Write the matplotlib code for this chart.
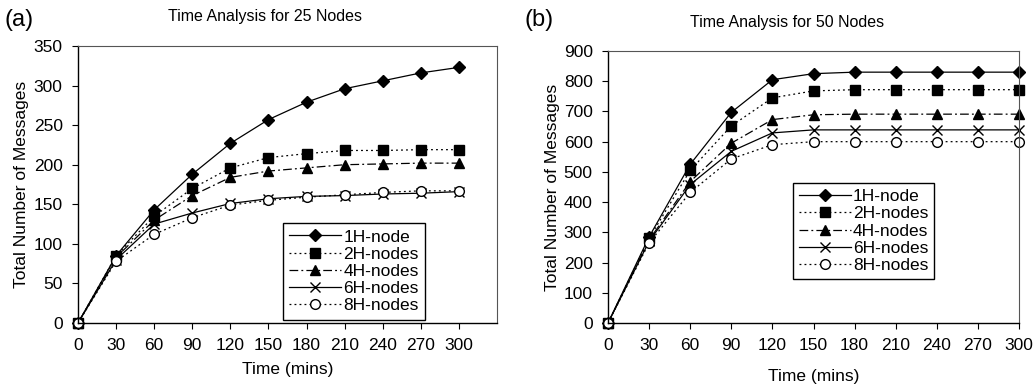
import matplotlib
matplotlib.use("Agg")
import matplotlib.pyplot as plt

plt.rcParams["font.family"] = ["Liberation Sans", "DejaVu Sans"]

time_mins = [0, 30, 60, 90, 120, 150, 180, 210, 240, 270, 300]
series_labels = ["1H-node", "2H-nodes", "4H-nodes", "6H-nodes", "8H-nodes"]

# (a) 25 nodes
msgs_25 = [
    [0, 85, 143, 188, 227, 257, 279, 296, 306, 316, 323],
    [0, 85, 135, 170, 196, 209, 214, 218, 218, 219, 219],
    [0, 83, 130, 161, 184, 192, 196, 200, 201, 202, 202],
    [0, 80, 125, 139, 151, 157, 160, 161, 163, 164, 166],
    [0, 78, 112, 133, 149, 155, 159, 162, 165, 167, 167],
]

# (b) 50 nodes
msgs_50 = [
    [0, 285, 525, 697, 805, 825, 830, 830, 830, 830, 830],
    [0, 280, 505, 652, 745, 768, 772, 772, 772, 772, 772],
    [0, 275, 468, 595, 673, 689, 691, 691, 691, 691, 691],
    [0, 270, 458, 568, 629, 639, 639, 639, 639, 639, 639],
    [0, 265, 432, 543, 590, 600, 600, 600, 600, 600, 600],
]

styles = [
    dict(ls="-", marker="D", mfc="black", ms=6.5),
    dict(ls=(0, (1.5, 2.5)), marker="s", mfc="black", ms=7.5),
    dict(ls=(0, (7, 2.5, 1.5, 2.5)), marker="^", mfc="black", ms=7.5),
    dict(ls="-", marker="x", mfc="black", ms=7, mew=1.0),
    dict(ls=(0, (1.5, 2.5)), marker="o", mfc="white", ms=7, mew=1.0),
]


def draw_panel(ax, data, ymax, xmax, legend_anchor, xlabel_pad):
    for vals, label, st in zip(data, series_labels, styles):
        ax.plot(time_mins, vals, color="black", lw=0.9, mec="black",
                label=label, clip_on=False, **st)
    ax.set_xlim(0, xmax)
    ax.set_ylim(0, ymax)
    ax.set_xticks(time_mins)
    ax.set_xlabel("Time (mins)", fontsize=12.5, labelpad=xlabel_pad)
    ax.set_ylabel("Total Number of Messages", fontsize=12.5, labelpad=3)
    ax.tick_params(direction="out", length=4, width=0.8, labelsize=12.5)
    ax.tick_params(axis="x", pad=7)
    ax.tick_params(axis="y", pad=7)
    for side in ["top", "right"]:
        ax.spines[side].set_color("#555555")
    for side in ["left", "bottom"]:
        ax.spines[side].set_color("black")
        ax.spines[side].set_linewidth(1.0)
    leg = ax.legend(loc="upper left", bbox_to_anchor=legend_anchor, fontsize=12.5,
                    frameon=True, fancybox=False, edgecolor="black",
                    framealpha=1, handlelength=3.0, handletextpad=0.1,
                    labelspacing=0.12, borderpad=0.35, borderaxespad=0)
    leg.get_frame().set_linewidth(1.0)


fig = plt.figure(figsize=(10.35, 3.87), dpi=100)

ax_a = fig.add_axes([78 / 1035, 1 - 323 / 387, 419 / 1035, 277 / 387])
draw_panel(ax_a, msgs_25, 350, 330, (0.49, 0.36), 6)
ax_a.set_yticks(range(0, 351, 50))

ax_b = fig.add_axes([608 / 1035, 1 - 323 / 387, 411 / 1035, 272 / 387])
draw_panel(ax_b, msgs_50, 900, 300, (0.45, 0.515), 11)
ax_b.set_yticks(range(0, 901, 100))

fig.text(5 / 1035, 1 - 20 / 387, "(a)", fontsize=17, va="center", ha="left")
fig.text(265 / 1035, 1 - 17 / 387, "Time Analysis for 25 Nodes",
         fontsize=11.5, va="center", ha="center")
fig.text(525 / 1035, 1 - 20 / 387, "(b)", fontsize=17, va="center", ha="left")
fig.text(787 / 1035, 1 - 23 / 387, "Time Analysis for 50 Nodes",
         fontsize=11.5, va="center", ha="center")

fig.savefig("out.png", dpi=100)
